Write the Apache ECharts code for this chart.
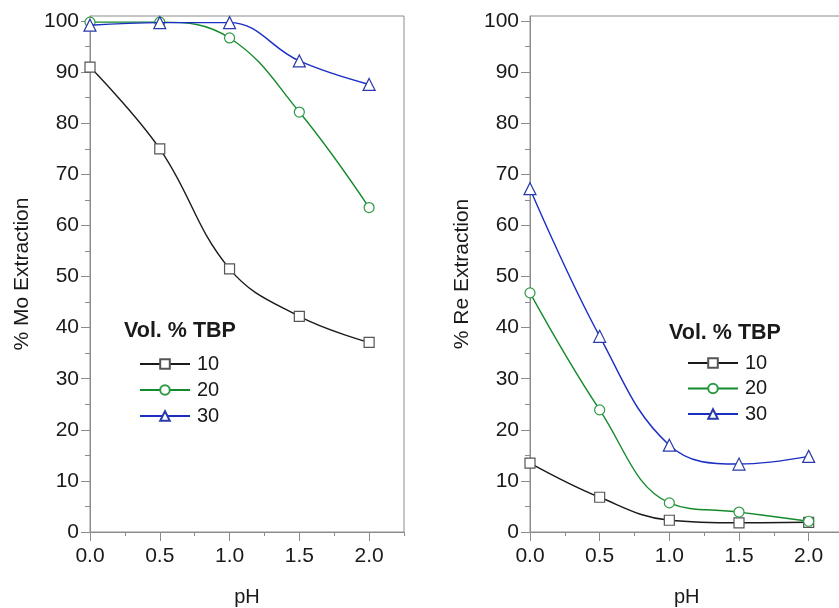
<!DOCTYPE html>
<html>
<head>
<meta charset="utf-8">
<script src="https://cdn.jsdelivr.net/npm/echarts@6/dist/echarts.min.js"></script>
<style>html,body{margin:0;padding:0;background:#fff;}#c{width:839px;height:608px;}</style>
</head>
<body>
<div id="c"></div>
<script>
const pH = [0.0, 0.5, 1.0, 1.5, 2.0];
const seriesNames = ['10', '20', '30'];
const mo10 = [91.0, 75.0, 51.5, 42.2, 37.1];
const mo20 = [99.8, 99.8, 96.7, 82.2, 63.5];
const mo30 = [99.2, 99.7, 99.7, 92.2, 87.6];
const re10 = [13.5, 6.8, 2.3, 1.8, 1.9];
const re20 = [46.8, 23.9, 5.7, 3.9, 2.1];
const re30 = [67.2, 38.3, 17.0, 13.3, 14.8];
const xMajor = [0, 0.5, 1.0, 1.5, 2.0];
const xMinor = [0, 0.25, 0.5, 0.75, 1.0, 1.25, 1.5, 1.75, 2.0, 2.25];
const yMajor = [0, 10, 20, 30, 40, 50, 60, 70, 80, 90, 100];
const yMinor = [0, 5, 10, 15, 20, 25, 30, 35, 40, 45, 50, 55, 60, 65, 70, 75, 80, 85, 90, 95, 100];

const lineColors = ['#1a1a1a', '#138a2c', '#1a2ec4'];
const markColors = ['#555555', '#2e9a44', '#2a3aa8'];
const symbols = ['rect', 'circle', 'triangle'];
const symSizes = [10, 10, 12];
const FONT = 'Liberation Sans, Arial, sans-serif';
const axisGray = '#8c8c8c';
const textCol = '#1a1a1a';

const chart = echarts.init(document.getElementById('c'), null, {renderer: 'canvas'});

const grids = [
  {left: 90, top: 16, width: 314, height: 516},
  {left: 530, top: 16, width: 313.5, height: 516}
];

function xAxes(gi) {
  return [
    {gridIndex: gi, type: 'value', min: 0, max: 2.25, position: 'bottom',
     axisLine: {show: true, lineStyle: {color: axisGray, width: 1}},
     axisTick: {show: true, customValues: xMinor, length: 4, lineStyle: {color: axisGray}},
     axisLabel: {show: false}, splitLine: {show: false}},
    {gridIndex: gi, type: 'value', min: 0, max: 2.25, position: 'bottom',
     name: 'pH', nameLocation: 'middle', nameGap: 55,
     nameTextStyle: {fontFamily: FONT, fontSize: 20, color: textCol},
     axisLine: {show: false},
     axisTick: {show: true, customValues: xMajor, length: 9, lineStyle: {color: axisGray}},
     axisLabel: {show: true, customValues: xMajor, fontFamily: FONT, fontSize: 21, color: textCol, margin: 14,
       formatter: v => v.toFixed(1)},
     splitLine: {show: false}}
  ];
}
function yAxes(gi, name) {
  return [
    {gridIndex: gi, type: 'value', min: 0, max: 101, position: 'left',
     axisLine: {show: true, lineStyle: {color: axisGray, width: 1}},
     axisTick: {show: true, customValues: yMinor, length: 5, lineStyle: {color: axisGray}},
     axisLabel: {show: false}, splitLine: {show: false}},
    {gridIndex: gi, type: 'value', min: 0, max: 101, position: 'left',
     name: name, nameLocation: 'middle', nameGap: 57,
     nameTextStyle: {fontFamily: FONT, fontSize: 21, color: textCol},
     axisLine: {show: false},
     axisTick: {show: true, customValues: yMajor, length: 9, lineStyle: {color: axisGray}},
     axisLabel: {show: true, customValues: yMajor, fontFamily: FONT, fontSize: 21, color: textCol, margin: 11},
     splitLine: {show: false}}
  ];
}

function mkSeries(data, i, xi, yi) {
  return {
    name: seriesNames[i], type: 'line', xAxisIndex: xi, yAxisIndex: yi,
    data: pH.map((x, k) => [x, data[k]]),
    smooth: 0.4, clip: false,
    symbol: symbols[i], symbolSize: symSizes[i], showSymbol: true,
    lineStyle: {color: lineColors[i], width: 1.4},
    itemStyle: {color: '#ffffff', borderColor: markColors[i], borderWidth: 1.2},
    emphasis: {disabled: true}, z: 2 + i
  };
}

const legendBase = {
  orient: 'vertical', itemWidth: 50, itemHeight: 12, itemGap: 6,
  textStyle: {fontFamily: FONT, fontSize: 20, color: textCol, padding: [0, 0, 0, 2]},
  data: seriesNames, selectedMode: false, padding: 0
};

const option = {
  backgroundColor: '#ffffff',
  animation: false,
  grid: grids.map(g => Object.assign({show: true, borderColor: axisGray, borderWidth: 1, backgroundColor: 'transparent',
    containLabel: false, outerBoundsMode: 'none'}, g)),
  xAxis: xAxes(0).concat(xAxes(1)),
  yAxis: yAxes(0, '% Mo Extraction').concat(yAxes(1, '% Re Extraction')),
  title: [
    {text: 'Vol. % TBP', left: 124, top: 320, padding: 0,
     textStyle: {fontFamily: FONT, fontSize: 21.5, fontWeight: 'bold', color: textCol}},
    {text: 'Vol. % TBP', left: 669, top: 322, padding: 0,
     textStyle: {fontFamily: FONT, fontSize: 21.5, fontWeight: 'bold', color: textCol}}
  ],
  legend: [
    Object.assign({}, legendBase, {left: 139, top: 354, itemGap: 6}),
    Object.assign({}, legendBase, {left: 687, top: 353, itemGap: 5.5})
  ],
  series: [
    mkSeries(mo10, 0, 0, 0), mkSeries(mo20, 1, 0, 0), mkSeries(mo30, 2, 0, 0),
    mkSeries(re10, 0, 2, 2), mkSeries(re20, 1, 2, 2), mkSeries(re30, 2, 2, 2)
  ]
};
chart.setOption(option);
</script>
</body>
</html>
